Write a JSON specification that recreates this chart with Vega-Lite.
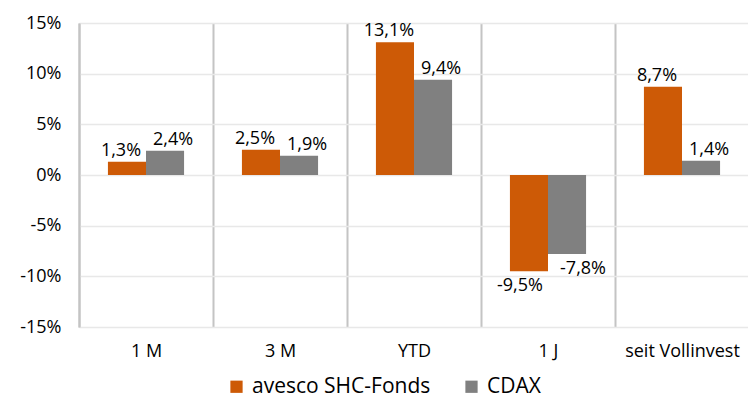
{
  "$schema": "https://vega.github.io/schema/vega-lite/v6.json",
  "autosize": "none",
  "width": 670,
  "height": 304,
  "padding": {"left": 79, "top": 23, "right": 0, "bottom": 75},
  "background": "white",
  "config": {
    "locale": {"number": {"decimal": ",", "thousands": ".", "grouping": [3], "currency": ["", " €"], "minus": "-"}},
    "font": "Open Sans",
    "view": {"stroke": null}
  },
  "data": {
    "values": [
      {"period": "1 M", "series": "avesco SHC-Fonds", "value": 0.013},
      {"period": "1 M", "series": "CDAX", "value": 0.024},
      {"period": "3 M", "series": "avesco SHC-Fonds", "value": 0.025},
      {"period": "3 M", "series": "CDAX", "value": 0.019},
      {"period": "YTD", "series": "avesco SHC-Fonds", "value": 0.131},
      {"period": "YTD", "series": "CDAX", "value": 0.094},
      {"period": "1 J", "series": "avesco SHC-Fonds", "value": -0.095},
      {"period": "1 J", "series": "CDAX", "value": -0.078},
      {"period": "seit Vollinvest", "series": "avesco SHC-Fonds", "value": 0.087},
      {"period": "seit Vollinvest", "series": "CDAX", "value": 0.014}
    ]
  },
  "encoding": {
    "x": {
      "field": "period", "type": "nominal", "sort": null,
      "scale": {"paddingInner": 0, "paddingOuter": 0},
      "axis": {
        "title": null, "orient": "bottom", "domain": false, "ticks": false,
        "labelAngle": 0, "labelFontSize": 18, "labelColor": "#000000", "labelPadding": 15,
        "grid": true, "tickBand": "extent", "gridColor": "#c4c4c4", "gridWidth": 2
      }
    },
    "xOffset": {"field": "series", "type": "nominal", "sort": ["avesco SHC-Fonds", "CDAX"], "scale": {"paddingInner": 0, "paddingOuter": 0.76}},
    "y": {
      "field": "value", "type": "quantitative",
      "scale": {"domain": [-0.15, 0.15], "nice": false},
      "axis": {
        "title": null, "format": ".0%", "values": [-0.15, -0.1, -0.05, 0, 0.05, 0.1, 0.15],
        "domain": true, "domainColor": "#c4c4c4", "domainWidth": 2, "ticks": false,
        "labelFontSize": 18, "labelColor": "#000000", "labelPadding": 18,
        "grid": true, "gridColor": "#e8e8e8", "gridWidth": 1.5
      }
    }
  },
  "layer": [
    {
      "mark": {"type": "bar"},
      "encoding": {
        "color": {
          "field": "series", "type": "nominal",
          "scale": {"domain": ["avesco SHC-Fonds", "CDAX"], "range": ["#CD5A06", "#808080"]},
          "legend": {
            "title": null, "orient": "none", "direction": "horizontal",
            "legendX": 147, "legendY": 353,
            "symbolType": "square", "symbolSize": 150, "symbolStrokeWidth": 0,
            "labelFontSize": 21, "labelColor": "#000000", "columnPadding": 30, "labelOffset": 5, "labelLimit": 400
          }
        }
      }
    },
    {
      "transform": [{"filter": "datum.value >= 0 && datum.series == 'avesco SHC-Fonds'"}],
      "mark": {"type": "text", "baseline": "bottom", "dy": -2, "dx": -6, "fontSize": 18, "color": "#000000"},
      "encoding": {"text": {"field": "value", "type": "quantitative", "format": ".1%"}}
    },
    {
      "transform": [{"filter": "datum.value >= 0 && datum.series == 'CDAX'"}],
      "mark": {"type": "text", "baseline": "bottom", "dy": -2, "dx": 8, "fontSize": 18, "color": "#000000"},
      "encoding": {"text": {"field": "value", "type": "quantitative", "format": ".1%"}}
    },
    {
      "transform": [{"filter": "datum.value < 0 && datum.series == 'avesco SHC-Fonds'"}],
      "mark": {"type": "text", "baseline": "top", "dy": 6, "dx": -9, "fontSize": 18, "color": "#000000"},
      "encoding": {"text": {"field": "value", "type": "quantitative", "format": ".1%"}}
    },
    {
      "transform": [{"filter": "datum.value < 0 && datum.series == 'CDAX'"}],
      "mark": {"type": "text", "baseline": "top", "dy": 6, "dx": 16, "fontSize": 18, "color": "#000000"},
      "encoding": {"text": {"field": "value", "type": "quantitative", "format": ".1%"}}
    }
  ]
}
